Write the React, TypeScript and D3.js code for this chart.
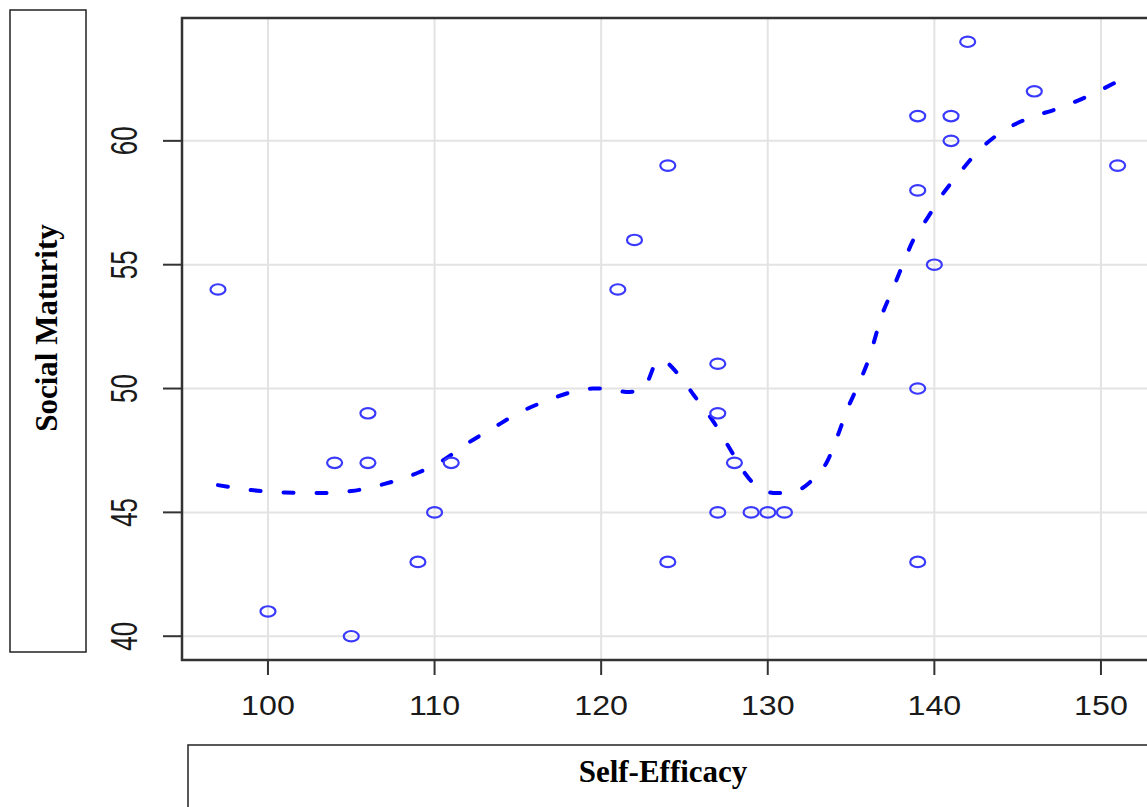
import React from "react";
import * as d3 from "d3";

// scatter points
const selfEfficacy = [97, 100, 104, 105, 106, 106, 109, 110, 111, 121, 122, 124, 124, 127, 127, 127, 128, 129, 130, 131, 139, 139, 139, 139, 140, 141, 141, 142, 146, 151];
const socialMaturity = [54, 41, 47, 40, 49, 47, 43, 45, 47, 54, 56, 59, 43, 51, 49, 45, 47, 45, 45, 45, 61, 58, 50, 43, 55, 61, 60, 64, 62, 59];

// smoothed (loess) curve
const loessX = [97, 99, 101, 103, 105, 107, 109, 110.5, 112, 113.5, 115, 116.7, 118.5, 119.5, 120.5, 121.5, 122.4, 122.8, 123.3, 123.6, 124.6, 125.6, 126.8, 127.7, 128.5, 129.1, 129.7, 130.5, 131.5, 132.5, 133.6, 134.2, 134.8, 135.4, 136, 136.9, 137.5, 138.1, 138.7, 139.6, 140.5, 141.5, 142.6, 143.9, 145.6, 147.4, 149.2, 151];
const loessY = [46.1, 45.9, 45.8, 45.78, 45.86, 46.15, 46.6, 47.1, 47.8, 48.4, 49, 49.5, 49.9, 50, 50, 49.86, 49.94, 50.3, 51.05, 51.15, 50.6, 49.7, 48.6, 47.6, 46.7, 46.2, 45.9, 45.78, 45.82, 46.2, 47.1, 48.1, 49.2, 50.1, 51.07, 53.05, 54, 55, 55.95, 56.9, 57.85, 58.7, 59.56, 60.3, 60.9, 61.3, 61.8, 62.4];

const xTicks = [100, 110, 120, 130, 140, 150];
const yTicks = [40, 45, 50, 55, 60];

const W = 1147;
const H = 807;
const plot = { left: 182, top: 18, right: 1153.6, bottom: 660 };

const App = () => {
    const x = d3.scaleLinear().domain([94.84, 153.16]).range([plot.left, plot.right]);
    const y = d3.scaleLinear().domain([39.04, 64.96]).range([plot.bottom, plot.top]);

    const line = d3
        .line<number>()
        .x((d, i) => x(loessX[i]))
        .y((d) => y(d))
        .curve(d3.curveMonotoneX);

    return (
        <svg
            width={W}
            height={H}
            style={{ position: "absolute", left: 0, top: 0, background: "white" }}
        >
            <defs>
                <clipPath id="plotClip">
                    <rect x={plot.left} y={plot.top} width={plot.right - plot.left} height={plot.bottom - plot.top} />
                </clipPath>
            </defs>

            {/* grid */}
            <g stroke="#e3e3e3" strokeWidth={2}>
                {xTicks.map((t) => (
                    <line key={"gx" + t} x1={x(t)} x2={x(t)} y1={plot.top} y2={plot.bottom} />
                ))}
                {yTicks.map((t) => (
                    <line key={"gy" + t} x1={plot.left} x2={plot.right} y1={y(t)} y2={y(t)} />
                ))}
            </g>

            <g clipPath="url(#plotClip)">
                <path
                    d={line(loessY) || ""}
                    fill="none"
                    stroke="#0000ff"
                    strokeWidth={4}
                    strokeLinecap="round"
                    strokeDasharray="10 23"
                />
                {selfEfficacy.map((v, i) => (
                    <ellipse
                        key={i}
                        cx={x(v)}
                        cy={y(socialMaturity[i])}
                        rx={7.5}
                        ry={5.2}
                        fill="none"
                        stroke="#3a3aff"
                        strokeWidth={2.2}
                    />
                ))}
            </g>

            {/* plot frame */}
            <rect
                x={plot.left}
                y={plot.top}
                width={plot.right - plot.left}
                height={plot.bottom - plot.top}
                fill="none"
                stroke="#333"
                strokeWidth={2.5}
            />

            {/* ticks */}
            <g stroke="#333" strokeWidth={2}>
                {xTicks.map((t) => (
                    <line key={"tx" + t} x1={x(t)} x2={x(t)} y1={plot.bottom} y2={plot.bottom + 15} />
                ))}
                {yTicks.map((t) => (
                    <line key={"ty" + t} x1={plot.left - 19} x2={plot.left} y1={y(t)} y2={y(t)} />
                ))}
            </g>
            <g fontFamily="'Liberation Sans', Arial, sans-serif" fill="#1a1a1a" fontSize={28}>
                {xTicks.map((t) => (
                    <text
                        key={"lx" + t}
                        transform={`translate(${x(t)},715) scale(1.15,1)`}
                        textAnchor="middle"
                    >
                        {t}
                    </text>
                ))}
            </g>
            <g fontFamily="'Liberation Sans', Arial, sans-serif" fill="#1a1a1a" fontSize={26}>
                {yTicks.map((t) => (
                    <text
                        key={"ly" + t}
                        transform={`translate(137,${y(t)}) scale(1.45,1) rotate(-90)`}
                        textAnchor="middle"
                    >
                        {t}
                    </text>
                ))}
            </g>

            {/* axis title boxes */}
            <rect x={10} y={10} width={76} height={642} fill="none" stroke="#222" strokeWidth={1.5} />
            <rect x={188} y={745} width={1000} height={100} fill="none" stroke="#222" strokeWidth={1.5} />

            <text
                transform="translate(57,328) rotate(-90)"
                textAnchor="middle"
                fontFamily="'Liberation Serif', 'Times New Roman', serif"
                fontWeight="bold"
                fontSize={31}
                fill="#000"
            >
                Social Maturity
            </text>
            <text
                x={663}
                y={782}
                textAnchor="middle"
                fontFamily="'Liberation Serif', 'Times New Roman', serif"
                fontWeight="bold"
                fontSize={31}
                fill="#000"
            >
                Self-Efficacy
            </text>
        </svg>
    );
};

export default App;
